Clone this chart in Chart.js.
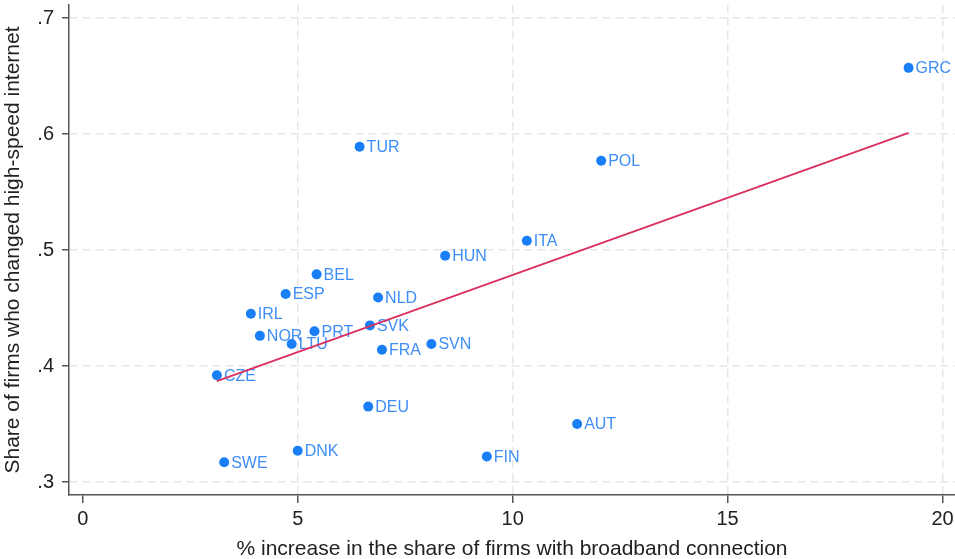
<!DOCTYPE html>
<html>
<head>
<meta charset="utf-8">
<script src="https://cdn.jsdelivr.net/npm/chart.js@4"></script>
<style>
  html, body { margin: 0; padding: 0; background: #fff; overflow: hidden; }
  #wrap { width: 955px; height: 559px; }
  canvas { display: block; }
</style>
</head>
<body>
<div id="wrap"><canvas id="scatter"></canvas></div>
<script>
var countries = ["CZE", "SWE", "IRL", "NOR", "ESP", "LTU", "DNK", "PRT", "BEL", "NLD", "SVK", "FRA",
                 "SVN", "DEU", "AUT", "FIN", "TUR", "POL", "ITA", "HUN", "GRC"];
var broadband = [3.12, 3.29, 3.91, 4.12, 4.72, 4.86, 5.00, 5.39, 5.44, 6.87, 6.68, 6.96,
                 8.11, 6.64, 11.50, 9.40, 6.44, 12.06, 10.33, 8.43, 19.21];
var changed = [0.392, 0.317, 0.445, 0.426, 0.462, 0.419, 0.327, 0.430, 0.479, 0.459, 0.435, 0.414,
               0.419, 0.365, 0.350, 0.322, 0.589, 0.577, 0.508, 0.495, 0.657];
var fitX = [3.12, 19.21];
var fitY = [0.387, 0.601];
var xTicks = [0, 5, 10, 15, 20];
var yTicks = [0.3, 0.4, 0.5, 0.6, 0.7];
var yTickLabels = [".3", ".4", ".5", ".6", ".7"];

var font = "'Liberation Sans', Arial, sans-serif";

var points = [];
for (var i = 0; i < countries.length; ++i) {
  points.push({x: broadband[i], y: changed[i]});
}
var fit = [];
for (var j = 0; j < fitX.length; ++j) {
  fit.push({x: fitX[j], y: fitY[j]});
}

// country names next to the markers, drawn under the markers and fit line
var pointLabels = {
  id: 'pointLabels',
  beforeDatasetsDraw: function(chart) {
    var ctx = chart.ctx;
    var xs = chart.scales.x, ys = chart.scales.y;
    ctx.save();
    ctx.font = "16px " + font;
    ctx.fillStyle = "#3f8ef7";
    ctx.textBaseline = "middle";
    for (var i = 0; i < countries.length; ++i) {
      ctx.fillText(countries[i], xs.getPixelForValue(broadband[i]) + 7, ys.getPixelForValue(changed[i]) + 1);
    }
    ctx.restore();
  }
};

function fixX(scale) {
  scale.height = 64;
  scale.paddingLeft = 0;
  scale.paddingRight = 0;
}
function fixY(scale) {
  scale.width = 69;
  scale.paddingTop = 0;
  scale.paddingBottom = 0;
}

var context = document.getElementById("scatter").getContext('2d');
new Chart(context, {
  type: 'scatter',
  data: {
    datasets: [
      {
        label: "Fit",
        type: 'line',
        data: fit,
        borderColor: "#d9305f",
        borderWidth: 1.8,
        pointRadius: 0,
        fill: false,
        order: 0
      },
      {
        label: "Countries",
        data: points,
        backgroundColor: "#1a7ff7",
        borderColor: "#1a7ff7",
        pointRadius: 5,
        pointBorderWidth: 0,
        order: 1
      }
    ]
  },
  options: {
    responsive: true,
    maintainAspectRatio: false,
    animation: false,
    layout: { autoPadding: false, padding: { top: 5, right: 0, left: 0, bottom: 0 } },
    plugins: {
      legend: { display: false },
      tooltip: { enabled: false }
    },
    scales: {
      x: {
        type: 'linear',
        min: -0.32,
        max: 20.29,
        afterBuildTicks: function(scale) {
          scale.ticks = xTicks.map(function(v) { return {value: v}; });
        },
        afterFit: fixX,
        ticks: {
          color: "#222",
          font: { family: font, size: 20 },
          padding: 4,
          maxRotation: 0
        },
        grid: {
          color: function(c) { return (c.tick && c.tick.value === 0) ? "rgba(0,0,0,0)" : "#e6e6e6"; },
          lineWidth: 1.5,
          tickLength: 8,
          tickColor: "#555",
          tickWidth: 1.5,
          tickBorderDash: []
        },
        border: { color: "#555", width: 1.5, dash: [8, 5] },
        title: {
          display: true,
          text: "% increase in the share of firms with broadband connection",
          color: "#222",
          font: { family: font, size: 21 },
          padding: { top: 0, bottom: -3 }
        }
      },
      y: {
        type: 'linear',
        min: 0.2888,
        max: 0.7112,
        afterBuildTicks: function(scale) {
          scale.ticks = yTicks.map(function(v) { return {value: v}; });
        },
        afterFit: fixY,
        ticks: {
          color: "#222",
          font: { family: font, size: 20 },
          padding: 8,
          callback: function(v) {
            var k = yTicks.findIndex(function(t) { return Math.abs(t - v) < 1e-6; });
            return k >= 0 ? yTickLabels[k] : "";
          }
        },
        grid: {
          color: "#e6e6e6",
          lineWidth: 1.5,
          tickLength: 7,
          tickColor: "#555",
          tickWidth: 1.5,
          tickBorderDash: []
        },
        border: { color: "#555", width: 1.5, dash: [8, 5] },
        title: {
          display: true,
          text: "Share of firms who changed high-speed internet",
          color: "#222",
          font: { family: font, size: 21 },
          padding: { top: 1, bottom: 0 }
        }
      }
    }
  },
  plugins: [pointLabels]
});
</script>
</body>
</html>
